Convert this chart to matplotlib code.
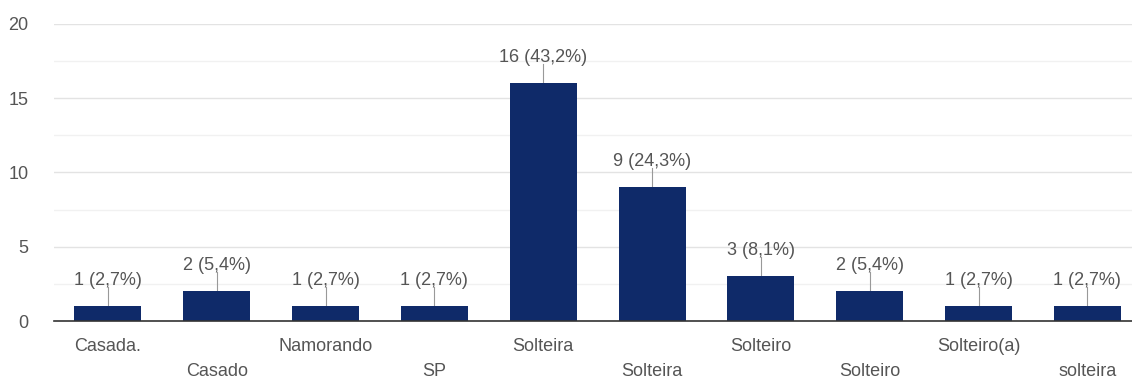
import numpy as np
import matplotlib.pyplot as plt
from matplotlib.ticker import MultipleLocator

# Dados das respostas
categorias = ["Casada.", "Casado", "Namorando", "SP", "Solteira",
              "Solteira", "Solteiro", "Solteiro", "Solteiro(a)", "solteira"]
contagens = [1, 2, 1, 1, 16, 9, 3, 2, 1, 1]
percentuais = ["2,7%", "5,4%", "2,7%", "2,7%", "43,2%",
               "24,3%", "8,1%", "5,4%", "2,7%", "2,7%"]

plt.rcParams['font.family'] = ['Liberation Sans', 'DejaVu Sans']
cor_texto = '#555555'

fig = plt.figure(figsize=(11.32, 3.79), dpi=100)
ax = fig.add_axes([0.0473, 0.153, 0.9527, 0.784])

x = np.arange(len(categorias))
ax.bar(x, contagens, width=0.616, color='#0f2a69', zorder=3)

# Rótulos acima das barras com linha de ligação
for xi, c, p in zip(x, contagens, percentuais):
    ax.plot([xi, xi], [c, c + 1.3], color='#999999', lw=0.8, zorder=2)
    ax.text(xi, c + 1.15, f"{c} ({p})", ha='center', va='bottom',
            fontsize=13, color=cor_texto)

ax.set_xlim(-0.5, 9.41)
ax.set_ylim(0, 20)
ax.yaxis.set_major_locator(MultipleLocator(5))
ax.yaxis.set_minor_locator(MultipleLocator(2.5))
ax.grid(axis='y', which='major', color='#e3e3e3', lw=1, zorder=0)
ax.grid(axis='y', which='minor', color='#f1f1f1', lw=1, zorder=0)

for s in ['top', 'right', 'left']:
    ax.spines[s].set_visible(False)
ax.spines['bottom'].set_color('#333333')
ax.spines['bottom'].set_linewidth(1.2)
ax.spines['bottom'].set_zorder(4)

ax.tick_params(axis='both', which='both', length=0)
ax.tick_params(axis='y', labelsize=13, labelcolor=cor_texto, pad=18)

ax.set_xticks(x)
ax.set_xticklabels([])
# Rótulos do eixo x alternados em duas linhas
for xi, nome in zip(x, categorias):
    y_off = -0.058 if xi % 2 == 0 else -0.14
    ax.text(xi, y_off, nome, transform=ax.get_xaxis_transform(),
            ha='center', va='top', fontsize=13, color=cor_texto)

fig.savefig('out.png', dpi=100, facecolor='white')
